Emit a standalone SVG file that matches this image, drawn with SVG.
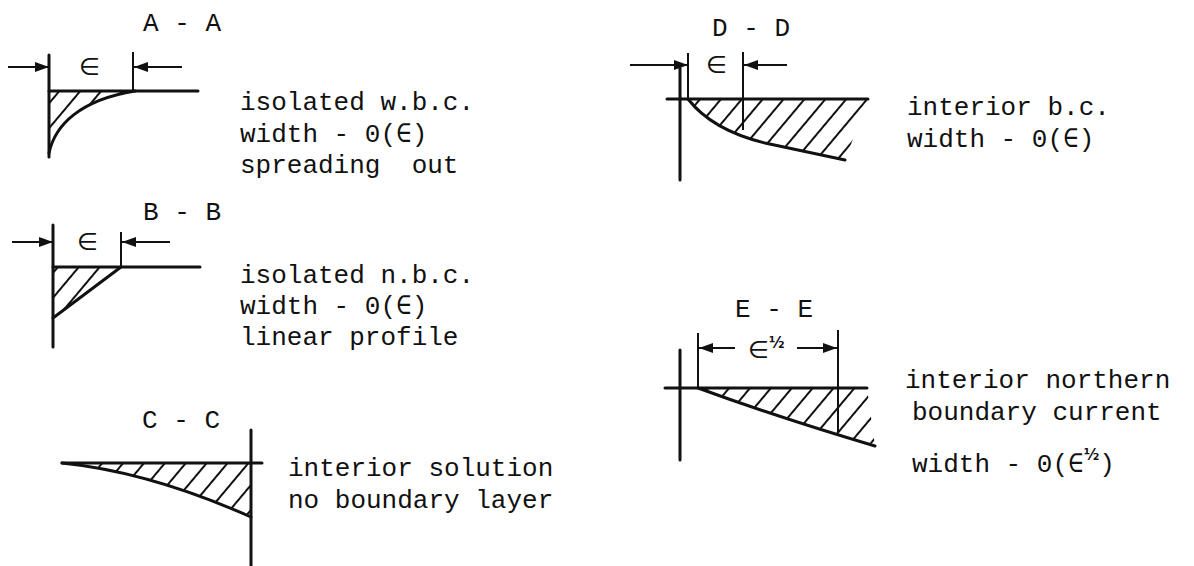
<svg xmlns="http://www.w3.org/2000/svg" width="1194" height="566" viewBox="0 0 1194 566">
<style>
.t{font-family:'Liberation Mono','DejaVu Sans Mono',monospace;font-size:26px;fill:#111;white-space:pre}
.e{font-family:'DejaVu Sans','Liberation Sans',sans-serif;font-size:24px;fill:#111}
.s{font-family:'DejaVu Sans','Liberation Sans',sans-serif;font-size:15px;font-weight:bold;fill:#111}
.l{stroke:#111;stroke-width:3;fill:none;stroke-linecap:round}
.d{stroke:#111;stroke-width:2;fill:none}
</style>
<defs>
<marker id="ah" viewBox="0 0 14 10" refX="14" refY="5" markerWidth="14" markerHeight="10" markerUnits="userSpaceOnUse" orient="auto"><path d="M0,0 L14,5 L0,10 z" fill="#111"/></marker>
<pattern id="hatch" patternUnits="userSpaceOnUse" width="16" height="16" patternTransform="rotate(40)"><line x1="8" y1="0" x2="8" y2="16" stroke="#111" stroke-width="2"/></pattern>
</defs>
<rect width="1194" height="566" fill="#fff"/>

<g id="sec-a">
<text class="t" x="143" y="31">A - A</text>
<line class="d" x1="8" y1="67" x2="49" y2="67" marker-end="url(#ah)"/>
<text class="e" x="79" y="75">∈</text>
<line class="d" x1="133" y1="52" x2="133" y2="91"/>
<line class="d" x1="182" y1="67" x2="134" y2="67" marker-end="url(#ah)"/>
<path d="M49,153 C55,125 80,100 135,91 L49,91 Z" fill="url(#hatch)"/>
<line class="l" x1="49" y1="55" x2="49" y2="157"/>
<line class="l" x1="49" y1="91" x2="198" y2="91"/>
<path class="l" d="M49,153 C55,125 80,100 135,91"/>
<text class="t" x="240" y="110">isolated w.b.c.</text>
<text class="t" x="240" y="142">width - 0(∈)</text>
<text class="t" x="240" y="173" xml:space="preserve">spreading  out</text>
</g>

<g id="sec-b">
<text class="t" x="143" y="220">B - B</text>
<line class="d" x1="12" y1="242" x2="53" y2="242" marker-end="url(#ah)"/>
<text class="e" x="77" y="250">∈</text>
<line class="d" x1="121" y1="232" x2="121" y2="267"/>
<line class="d" x1="170" y1="242" x2="122" y2="242" marker-end="url(#ah)"/>
<path d="M53,318 L121,267 L53,267 Z" fill="url(#hatch)"/>
<line class="l" x1="53" y1="225" x2="53" y2="347"/>
<line class="l" x1="53" y1="267" x2="200" y2="267"/>
<line class="l" x1="53" y1="318" x2="121" y2="267"/>
<text class="t" x="240" y="283">isolated n.b.c.</text>
<text class="t" x="240" y="314">width - 0(∈)</text>
<text class="t" x="240" y="345">linear profile</text>
</g>

<g id="sec-c">
<text class="t" x="142" y="428">C - C</text>
<path d="M62,463 Q150,472 251,517 L251,463 Z" fill="url(#hatch)"/>
<line class="l" x1="251" y1="430" x2="251" y2="566"/>
<line class="l" x1="62" y1="463" x2="262" y2="463"/>
<path class="l" d="M62,463 Q150,472 251,517"/>
<text class="t" x="288" y="476">interior solution</text>
<text class="t" x="288" y="508">no boundary layer</text>
</g>

<g id="sec-d">
<text class="t" x="712" y="36">D - D</text>
<line class="d" x1="630" y1="65" x2="688" y2="65" marker-end="url(#ah)"/>
<line class="d" x1="688" y1="53" x2="688" y2="99"/>
<text class="e" x="706" y="73">∈</text>
<line class="d" x1="743" y1="52" x2="743" y2="130"/>
<line class="d" x1="787" y1="65" x2="744" y2="65" marker-end="url(#ah)"/>
<path d="M688,99 Q712,130 765,143 L845,160 L868,99 Z" fill="url(#hatch)"/>
<line class="l" x1="680" y1="68" x2="680" y2="180"/>
<line class="l" x1="667" y1="99" x2="868" y2="99"/>
<path class="l" d="M688,99 Q712,130 765,143 L845,160"/>
<text class="t" x="907" y="115">interior b.c.</text>
<text class="t" x="907" y="147">width - 0(∈)</text>
</g>

<g id="sec-e">
<text class="t" x="735" y="317">E - E</text>
<line class="d" x1="698" y1="333" x2="698" y2="388"/>
<line class="d" x1="735" y1="348" x2="699" y2="348" marker-end="url(#ah)"/>
<text class="e" x="748" y="358">∈<tspan class="s" dy="-10">½</tspan></text>
<line class="d" x1="797" y1="348" x2="837" y2="348" marker-end="url(#ah)"/>
<line class="d" x1="838" y1="330" x2="838" y2="433"/>
<path d="M698,388 Q780,418 875,446 L867,388 Z" fill="url(#hatch)"/>
<line class="l" x1="680" y1="350" x2="680" y2="460"/>
<line class="l" x1="665" y1="388" x2="867" y2="388"/>
<path class="l" d="M698,388 Q780,418 875,446"/>
<text class="t" x="905" y="388">interior northern</text>
<text class="t" x="912" y="420">boundary current</text>
<text class="t" x="912" y="472">width - 0(∈<tspan class="s" dy="-12">½</tspan><tspan dy="12">)</tspan></text>
</g>
</svg>
